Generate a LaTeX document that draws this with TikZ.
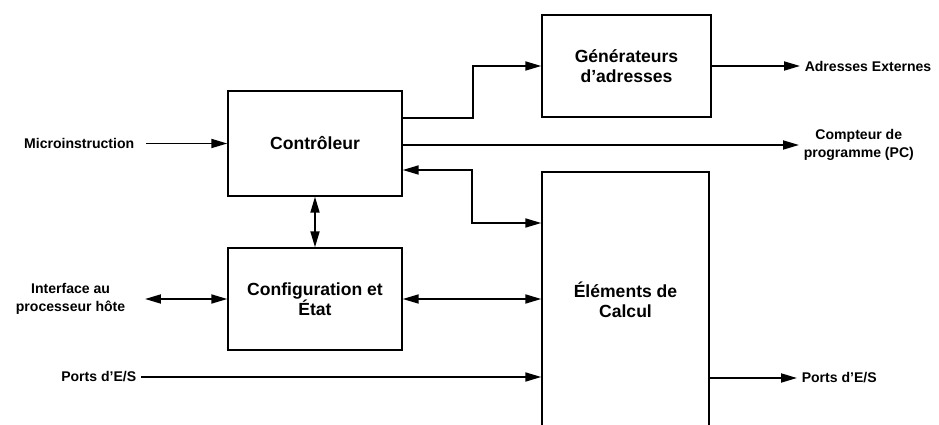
\documentclass[tikz,border=0pt]{standalone}
\usepackage{fontspec}
\setmainfont{Liberation Sans}
\usetikzlibrary{arrows.meta,positioning,calc}
\tikzset{
  blockbox/.style={
    rectangle, draw=black, line width=0.8pt, fill=white,
    font=\fontsize{10}{11.5}\selectfont\bfseries, align=center,
    inner sep=2pt
  },
  sidelabel/.style={font=\fontsize{8}{10}\selectfont\bfseries, align=center, inner sep=2.5pt},
  flowarrow/.style={
    -{Triangle[length=3.2mm, width=1.8mm]}, line width=1pt, draw=black
  },
  biarrow/.style={
    {Triangle[length=3.2mm, width=1.8mm]}-{Triangle[length=3.2mm, width=1.8mm]},
    line width=1pt, draw=black
  },
  flowline/.style={line width=1pt, draw=black}
}

\begin{document}
\begin{tikzpicture}[x=0.02cm, y=-0.02cm]
  \useasboundingbox (0,0) rectangle (939,425);
  % blocs
  \node[blockbox, minimum width=3.48cm, minimum height=2.1cm] (ctrl) at (315,143.5) {Contrôleur};
  \node[blockbox, minimum width=3.38cm, minimum height=2.04cm] (gen) at (626.5,66) {Générateurs\\d'adresses};
  \node[blockbox, minimum width=3.48cm, minimum height=2.04cm] (cfg) at (315,299) {Configuration et\\État};
  \node[blockbox, minimum width=3.34cm, minimum height=5.12cm] (calc) at (625.5,300) {Éléments de\\Calcul};
  % entrees / sorties
  \node[sidelabel, anchor=east] (micro) at (139,143.5) {Microinstruction};
  \node[sidelabel, anchor=east] (iface) at (130,299) {Interface au\\processeur hôte};
  \node[sidelabel, anchor=east] (portsin) at (141,377) {Ports d'E/S};
  \node[sidelabel, anchor=west] (adr) at (800,66) {Adresses Externes};
  \node[sidelabel, anchor=west] (pc) at (799,145) {Compteur de\\programme (PC)};
  \node[sidelabel, anchor=west] (portsout) at (797,378) {Ports d'E/S};
  % liaisons
  \draw[flowarrow, shorten <=0.14cm] (micro.east) -- (ctrl.west);
  \draw[flowarrow] (ctrl.east |- 0,118) -- (473,118) |- (gen.west);
  \draw[flowarrow] (gen.east) -- (adr.west);
  \draw[flowarrow] (ctrl.east |- pc.west) -- (pc.west);
  \draw[biarrow] (ctrl.east |- 0,170) -| (472,223) -- (calc.west |- 0,223);
  \draw[biarrow] (ctrl) -- (cfg);
  \draw[biarrow, shorten <=0.3cm] (iface.east) -- (cfg.west);
  \draw[biarrow] (cfg.east) -- (calc.west |- cfg.east);
  \draw[flowarrow] (portsin.east) -- (calc.west |- portsin.east);
  \draw[flowarrow] (calc.east |- portsout.west) -- (portsout.west);
\end{tikzpicture}
\end{document}
